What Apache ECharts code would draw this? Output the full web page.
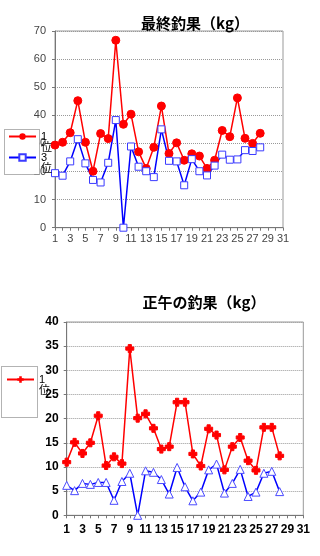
<!DOCTYPE html>
<html><head><meta charset="utf-8">
<script src="https://cdn.jsdelivr.net/npm/echarts@6/dist/echarts.min.js"></script>
<style>html,body{margin:0;padding:0;background:#fff}#c{width:320px;height:556px}</style>
</head><body><div id="c"></div>
<script>
const days = ['1','2','3','4','5','6','7','8','9','10','11','12','13','14','15','16','17','18','19','20','21','22','23','24','25','26','27','28','29','30','31'];
const finalFirst = [29.4,30.4,33.8,45.2,30.4,20.1,33.5,31.7,66.7,36.8,40.4,27.0,21.1,28.6,43.3,26.4,30.2,24.0,26.3,25.5,21.1,24.0,34.6,32.4,46.2,31.8,30.0,33.6];
const finalThird = [19.4,18.5,23.6,31.5,22.9,17.0,16.1,23.1,38.3,0,28.9,21.7,20.1,18.0,35.0,23.8,23.6,15.1,24.4,20.1,18.6,22.1,26.0,24.2,24.3,27.6,27.3,28.6];
const noonFirst = [11.0,15.1,12.8,15.0,20.6,10.3,12.1,10.7,34.5,20.1,21.0,18.0,13.7,14.2,23.4,23.4,12.7,10.2,17.9,16.6,9.4,14.2,16.1,11.3,9.3,18.2,18.2,12.3];
const noonThird = [6.2,5.1,6.6,6.4,6.8,6.8,3.1,7.0,8.7,0,9.2,8.9,7.4,4.4,9.9,5.9,3.0,4.8,9.4,10.6,4.6,6.6,9.5,3.9,4.8,8.7,9.1,4.9];
const titleTop = '最終釣果（kg）';
const titleBottom = '正午の釣果（kg）';

const FONT = '"Liberation Sans", Arial, "Noto Sans CJK JP", sans-serif';
const CJK = '"Noto Sans CJK JP", sans-serif';
const chart = echarts.init(document.getElementById('c'));
const plus = 'path://M3,0H7V3H10V7H7V10H3V7H0V3H3Z';

function xAx(gi, color, bold, margin, size) {
  return {
    type: 'category', gridIndex: gi, data: days, boundaryGap: false,
    axisLine: {lineStyle: {color: '#777', width: 1}},
    axisTick: {show: true, interval: 0, length: 3, inside: false, lineStyle: {color: '#777'}},
    axisLabel: {interval: 1, color: color, fontSize: size, fontWeight: bold ? 'bold' : 'normal', fontFamily: FONT, margin: margin},
    splitLine: {show: false}
  };
}
function yAx(gi, max, step, color, bold, margin, size) {
  return {
    type: 'value', gridIndex: gi, min: 0, max: max, interval: step,
    axisLine: {show: true, lineStyle: {color: '#777', width: 1}},
    axisTick: {show: true, length: 3, lineStyle: {color: '#777'}},
    axisLabel: {color: color, fontSize: size, fontWeight: bold ? 'bold' : 'normal', fontFamily: FONT, margin: margin},
    splitLine: {show: true, lineStyle: {color: '#999', type: 'dotted', width: 1}}
  };
}
const legendText = {fontSize: 11, lineHeight: 11, color: '#000', fontFamily: FONT};
const fmt = n => '\n' + n.trim().split('').join('\n');

chart.setOption({
  animation: false,
  backgroundColor: '#fff',
  title: [
    {text: titleTop, left: 190, top: 11, textAlign: 'center', textStyle: {fontSize: 15, fontWeight: 'bold', color: '#000', fontFamily: CJK}},
    {text: titleBottom, left: 199, top: 290, textAlign: 'center', textStyle: {fontSize: 15, fontWeight: 'bold', color: '#000', fontFamily: CJK}}
  ],
  grid: [
    {left: 55, top: 31, width: 228, height: 196.7, show: true, borderColor: '#999', borderWidth: 1, containLabel: false, outerBoundsMode: 'none'},
    {left: 66.7, top: 322, width: 236.6, height: 193.3, show: true, borderColor: '#999', borderWidth: 1, containLabel: false, outerBoundsMode: 'none'}
  ],
  xAxis: [xAx(0, '#444', false, 6, 11), xAx(1, '#000', true, 8, 12)],
  yAxis: [yAx(0, 70, 10, '#444', false, 9, 11), yAx(1, 40, 5, '#000', true, 8, 12)],
  graphic: [
    {type: 'rect', z: 50, shape: {x: 4.5, y: 129.5, width: 35, height: 45}, style: {fill: '#fff', stroke: '#666', lineWidth: 1, lineDash: [1, 1]}},
    {type: 'rect', z: 50, shape: {x: 1.5, y: 366.5, width: 36, height: 51}, style: {fill: '#fff', stroke: '#666', lineWidth: 1, lineDash: [1, 1]}}
  ],
  legend: [
    {data: ['1位', '3位'], orient: 'vertical', left: 8, top: 120, padding: 0, itemGap: -12, itemWidth: 27, itemHeight: 8, z: 60,
     textStyle: legendText, formatter: fmt, selectedMode: false},
    {data: ['1位 '], orient: 'vertical', left: 6, top: 363, padding: 0, itemWidth: 27, itemHeight: 8, z: 60,
     textStyle: legendText, formatter: fmt, selectedMode: false}
  ],
  series: [
    {name: '1位', type: 'line', xAxisIndex: 0, yAxisIndex: 0, data: finalFirst, symbol: 'circle', symbolSize: 8, showAllSymbol: true,
     lineStyle: {color: '#ff0000', width: 1.5}, itemStyle: {color: '#ff0000', borderColor: '#ff0000'}},
    {name: '3位', type: 'line', xAxisIndex: 0, yAxisIndex: 0, data: finalThird, symbol: 'rect', symbolSize: 7, showAllSymbol: true,
     lineStyle: {color: '#0000ff', width: 1.5}, itemStyle: {color: '#fff', borderColor: '#3b3bff', borderWidth: 1}},
    {name: '1位 ', type: 'line', xAxisIndex: 1, yAxisIndex: 1, data: noonFirst, symbol: plus, symbolSize: 8, showAllSymbol: true,
     lineStyle: {color: '#ff0000', width: 1.5}, itemStyle: {color: '#ff0000', borderColor: '#ff0000'}},
    {name: '3位 ', type: 'line', xAxisIndex: 1, yAxisIndex: 1, data: noonThird, symbol: 'triangle', symbolSize: 8, showAllSymbol: true,
     lineStyle: {color: '#0000ff', width: 1.5}, itemStyle: {color: '#fff', borderColor: '#4a4aff', borderWidth: 1}}
  ]
});
</script></body></html>
